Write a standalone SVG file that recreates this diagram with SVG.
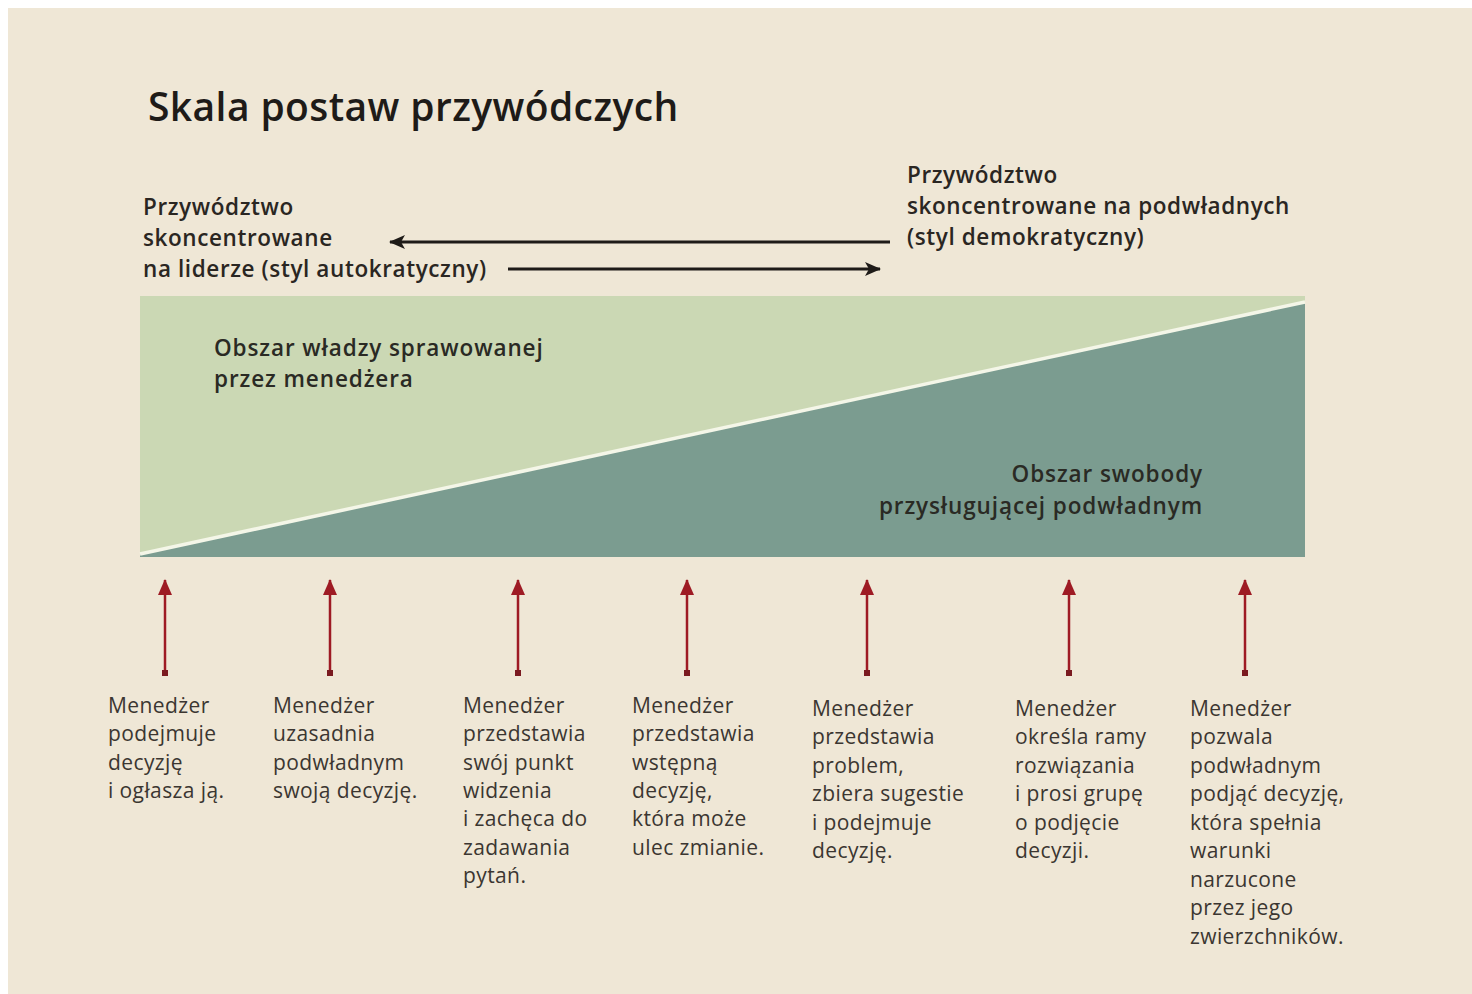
<svg xmlns="http://www.w3.org/2000/svg" width="1472" height="994" viewBox="0 0 1472 994">
<style>
.title{font-family:"Open Sans","Liberation Sans",sans-serif;font-weight:600;font-size:39px;letter-spacing:0.4px;fill:#1e1b18}
.lbl{font-family:"Open Sans","Liberation Sans",sans-serif;font-weight:600;font-size:22.5px;letter-spacing:0.6px;fill:#2a2622}
.area{font-family:"Open Sans","Liberation Sans",sans-serif;font-weight:600;font-size:22.5px;letter-spacing:0.9px;fill:#2a2a24}
.desc{font-family:"Open Sans","Liberation Sans",sans-serif;font-size:21px;letter-spacing:0.4px;fill:#3b3631}
.blk{stroke:#1e1b18;stroke-width:3;fill:none}
.red{stroke:#9e1b24;stroke-width:2.5;fill:none}
</style>
<defs>
<marker id="ah" viewBox="0 0 16 14" refX="15" refY="7" markerWidth="16" markerHeight="14" markerUnits="userSpaceOnUse" orient="auto">
<path d="M0,0 L16,7 L0,14 L4,7 Z" fill="#1e1b18"/>
</marker>
<marker id="rh" viewBox="0 0 16 14" refX="15" refY="7" markerWidth="16" markerHeight="14" markerUnits="userSpaceOnUse" orient="auto">
<path d="M0,0 L16,7 L0,14 Z" fill="#9e1b24"/>
</marker>
</defs>
<rect x="0" y="0" width="1472" height="994" fill="#ffffff"/>
<rect x="8" y="8" width="1464" height="986" fill="#efe7d6"/>
<text class="title" x="148" y="121">Skala postaw przywódczych</text>

<g id="autocratic">
<text class="lbl" x="143" y="215">Przywództwo</text>
<text class="lbl" x="143" y="246">skoncentrowane</text>
<text class="lbl" x="143" y="277">na liderze (styl autokratyczny)</text>
</g>
<g id="democratic">
<text class="lbl" x="907" y="183">Przywództwo</text>
<text class="lbl" x="907" y="214">skoncentrowane na podwładnych</text>
<text class="lbl" x="907" y="245">(styl demokratyczny)</text>
</g>

<g id="scale">
<rect x="140" y="296" width="1165" height="261" fill="#cbd8b4"/>
<polygon points="140,554 1305,302 1305,557 140,557" fill="#7b9c90"/>
<line x1="140" y1="554" x2="1305" y2="302" stroke="#f4f6e8" stroke-width="3.5"/>
<text class="area" x="214" y="356">Obszar władzy sprawowanej</text>
<text class="area" x="214" y="387">przez menedżera</text>
<text class="area" x="1203" y="482" text-anchor="end">Obszar swobody</text>
<text class="area" x="1203" y="514" text-anchor="end">przysługującej podwładnym</text>
</g>

<g id="connectors">
<line class="blk" x1="890" y1="242" x2="390" y2="242" marker-end="url(#ah)"/>
<line class="blk" x1="508" y1="269" x2="880" y2="269" marker-end="url(#ah)"/>
<g class="red">
<line x1="165" y1="672" x2="165" y2="580" marker-end="url(#rh)"/>
<line x1="330" y1="672" x2="330" y2="580" marker-end="url(#rh)"/>
<line x1="518" y1="672" x2="518" y2="580" marker-end="url(#rh)"/>
<line x1="687" y1="672" x2="687" y2="580" marker-end="url(#rh)"/>
<line x1="867" y1="672" x2="867" y2="580" marker-end="url(#rh)"/>
<line x1="1069" y1="672" x2="1069" y2="580" marker-end="url(#rh)"/>
<line x1="1245" y1="672" x2="1245" y2="580" marker-end="url(#rh)"/>
</g>
<g fill="#7a1a20">
<rect x="162" y="670" width="6" height="6"/>
<rect x="327" y="670" width="6" height="6"/>
<rect x="515" y="670" width="6" height="6"/>
<rect x="684" y="670" width="6" height="6"/>
<rect x="864" y="670" width="6" height="6"/>
<rect x="1066" y="670" width="6" height="6"/>
<rect x="1242" y="670" width="6" height="6"/>
</g>
</g>

<g id="step1" class="desc">
<text x="108" y="713">Menedżer</text>
<text x="108" y="741">podejmuje</text>
<text x="108" y="770">decyzję</text>
<text x="108" y="798">i ogłasza ją.</text>
</g>
<g id="step2" class="desc">
<text x="273" y="713">Menedżer</text>
<text x="273" y="741">uzasadnia</text>
<text x="273" y="770">podwładnym</text>
<text x="273" y="798">swoją decyzję.</text>
</g>
<g id="step3" class="desc">
<text x="463" y="713">Menedżer</text>
<text x="463" y="741">przedstawia</text>
<text x="463" y="770">swój punkt</text>
<text x="463" y="798">widzenia</text>
<text x="463" y="826">i zachęca do</text>
<text x="463" y="855">zadawania</text>
<text x="463" y="883">pytań.</text>
</g>
<g id="step4" class="desc">
<text x="632" y="713">Menedżer</text>
<text x="632" y="741">przedstawia</text>
<text x="632" y="770">wstępną</text>
<text x="632" y="798">decyzję,</text>
<text x="632" y="826">która może</text>
<text x="632" y="855">ulec zmianie.</text>
</g>
<g id="step5" class="desc">
<text x="812" y="716">Menedżer</text>
<text x="812" y="744">przedstawia</text>
<text x="812" y="773">problem,</text>
<text x="812" y="801">zbiera sugestie</text>
<text x="812" y="830">i podejmuje</text>
<text x="812" y="858">decyzję.</text>
</g>
<g id="step6" class="desc">
<text x="1015" y="716">Menedżer</text>
<text x="1015" y="744">określa ramy</text>
<text x="1015" y="773">rozwiązania</text>
<text x="1015" y="801">i prosi grupę</text>
<text x="1015" y="830">o podjęcie</text>
<text x="1015" y="858">decyzji.</text>
</g>
<g id="step7" class="desc">
<text x="1190" y="716">Menedżer</text>
<text x="1190" y="744">pozwala</text>
<text x="1190" y="773">podwładnym</text>
<text x="1190" y="801">podjąć decyzję,</text>
<text x="1190" y="830">która spełnia</text>
<text x="1190" y="858">warunki</text>
<text x="1190" y="887">narzucone</text>
<text x="1190" y="915">przez jego</text>
<text x="1190" y="944">zwierzchników.</text>
</g>
</svg>
